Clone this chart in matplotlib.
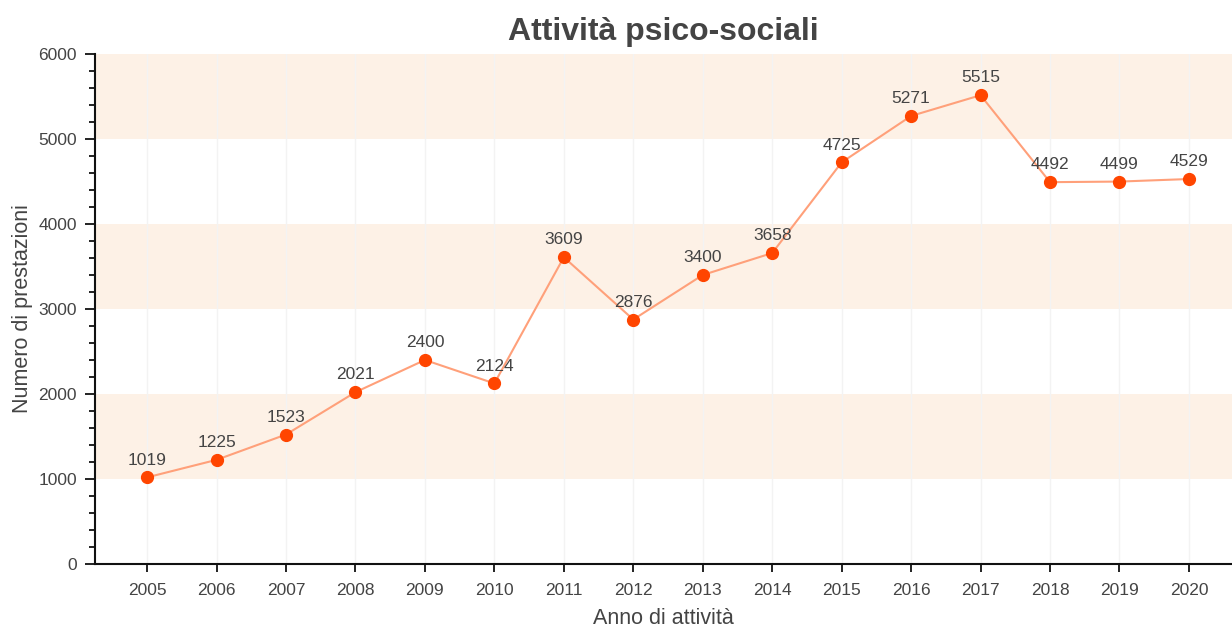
import matplotlib
matplotlib.use("Agg")
import matplotlib.pyplot as plt
from matplotlib.ticker import MultipleLocator

anni = [2005, 2006, 2007, 2008, 2009, 2010, 2011, 2012,
        2013, 2014, 2015, 2016, 2017, 2018, 2019, 2020]
prestazioni = [1019, 1225, 1523, 2021, 2400, 2124, 3609, 2876,
               3400, 3658, 4725, 5271, 5515, 4492, 4499, 4529]
bande = [(1000, 2000), (3000, 4000), (5000, 6000)]

plt.rcParams['font.family'] = ['Liberation Sans', 'DejaVu Sans']

fig = plt.figure(figsize=(12.32, 6.3), dpi=100)
ax = fig.add_axes([0.0771, 0.1048, 0.9229, 0.8095])

for lo, hi in bande:
    ax.axhspan(lo, hi, color='#fdf1e6', lw=0, zorder=0)

ax.set_xlim(2004.25, 2020.62)
ax.set_ylim(0, 6000)
ax.set_xticks(anni)
ax.set_xticklabels([str(a) for a in anni])
ax.yaxis.set_major_locator(MultipleLocator(1000))
ax.yaxis.set_minor_locator(MultipleLocator(200))
ax.grid(axis='x', color='#f3f3f3', lw=1, zorder=0.5)

ax.plot(anni, prestazioni, color='#ffa07a', lw=1.5, zorder=2)
ax.plot(anni, prestazioni, 'o', color='#ff4500', ms=8.5, zorder=3)

for a, v in zip(anni, prestazioni):
    ax.annotate(str(v), (a, v), xytext=(0, 7), textcoords='offset points',
                ha='center', va='bottom', fontsize=12.5, color='#444444')

for s in ['top', 'right']:
    ax.spines[s].set_visible(False)
for s in ['left', 'bottom']:
    ax.spines[s].set_linewidth(1.5)
    ax.spines[s].set_color('#111111')

ax.tick_params(axis='x', which='major', length=6, width=1.3, pad=8,
               labelsize=12.5, labelcolor='#444444', color='#111111')
ax.tick_params(axis='y', which='major', length=7, width=1.3, pad=6,
               labelsize=12.5, labelcolor='#444444', color='#111111')
ax.tick_params(axis='y', which='minor', length=4, width=1.3, color='#111111')

ax.set_xlabel('Anno di attività', fontsize=15.5, color='#444444', labelpad=7)
ax.set_ylabel('Numero di prestazioni', fontsize=15.5, color='#444444', labelpad=4)
ax.set_title('Attività psico-sociali', fontsize=23, fontweight='bold',
             color='#444444', pad=10)

fig.savefig('out.png', dpi=100)
